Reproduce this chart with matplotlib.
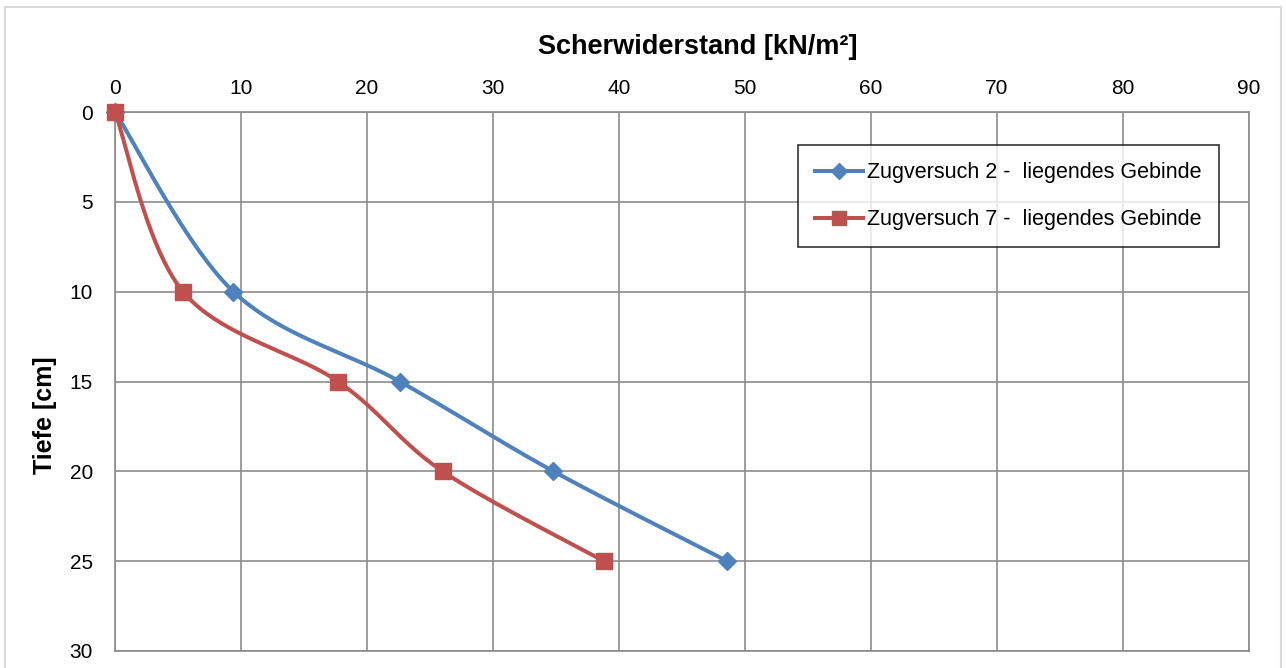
import matplotlib
matplotlib.use("Agg")
import matplotlib.pyplot as plt
import numpy as np
from matplotlib.patches import Rectangle

# Daten
tiefe = [0, 10, 15, 20, 25]
zug2 = [0, 9.4, 22.6, 34.8, 48.6]
zug7 = [0, 5.4, 17.7, 26.0, 38.8]
labels = ["Zugversuch 2 -  liegendes Gebinde", "Zugversuch 7 -  liegendes Gebinde"]
x_ticks = list(range(0, 91, 10))
y_ticks = list(range(0, 31, 5))

plt.rcParams['font.family'] = ['Liberation Sans', 'DejaVu Sans']


def smooth(xs, ys, n=40):
    # geglaettete Linie wie in Excel (Catmull-Rom als Bezier)
    p = np.column_stack([xs, ys]).astype(float)
    out = []
    for i in range(len(p) - 1):
        p0 = p[i - 1] if i > 0 else p[i]
        p1, p2 = p[i], p[i + 1]
        p3 = p[i + 2] if i + 2 < len(p) else p[i + 1]
        c1 = p1 + (p2 - p0) / 6
        c2 = p2 - (p3 - p1) / 6
        t = np.linspace(0, 1, n)[:, None]
        seg = (1 - t) ** 3 * p1 + 3 * (1 - t) ** 2 * t * c1 + 3 * (1 - t) * t ** 2 * c2 + t ** 3 * p2
        out.append(seg)
    c = np.vstack(out)
    return c[:, 0], c[:, 1]


fig = plt.figure(figsize=(12.86, 6.68), dpi=100)
fig.patches.append(Rectangle((5 / 1286, -0.05), 1276 / 1286, 1 - 7 / 668 + 0.05,
                             transform=fig.transFigure, fill=False, ec='#d9d9d9', lw=1.5))
ax = fig.add_axes([115 / 1286, 1 - 651 / 668, 1134 / 1286, 539 / 668])

farben = ['#4F81BD', '#C0504D']
marker = [('D', 9.5), ('s', 11.5)]
for werte, farbe, (m, ms), lab in zip([zug2, zug7], farben, marker, labels):
    sx, sy = smooth(werte, tiefe)
    ax.plot(sx, sy, color=farbe, lw=2.9, solid_capstyle='round', zorder=3, clip_on=False)
    ax.plot(werte, tiefe, ls='none', marker=m, ms=ms, color=farbe, zorder=4, clip_on=False)
    ax.plot([], [], color=farbe, lw=2.9, marker=m, ms=ms * 0.85, label=lab)

ax.set_xlim(0, 90)
ax.set_ylim(30, 0)
ax.set_xticks(x_ticks)
ax.set_yticks(y_ticks)
ax.xaxis.tick_top()
ax.xaxis.set_label_position('top')
ax.tick_params(length=0, labelsize=15)
ax.tick_params(axis='x', pad=10)
ax.tick_params(axis='y', pad=16)
ax.grid(True, color='#8c8c8c', lw=1.2)
ax.set_axisbelow(True)
for s in ax.spines.values():
    s.set_color('#8c8c8c')
    s.set_linewidth(1.2)

ax.set_xlabel('Scherwiderstand [kN/m²]', fontsize=19.5, fontweight='bold')
ax.xaxis.set_label_coords(0.514, 1.108)
ax.set_ylabel('Tiefe [cm]', fontsize=18, fontweight='bold')
ax.yaxis.set_label_coords(-0.051, 0.438)

leg = ax.legend(loc='upper left', bbox_to_anchor=((798 - 115) / 1134, 1 - (145 - 112) / 539),
                fontsize=15.5, frameon=True, fancybox=False, handlelength=2.2,
                handletextpad=0.2, labelspacing=1.2, borderpad=0.8, borderaxespad=0)
leg.get_frame().set_edgecolor('black')
leg.get_frame().set_linewidth(1.2)

fig.savefig('out.png', dpi=100)
